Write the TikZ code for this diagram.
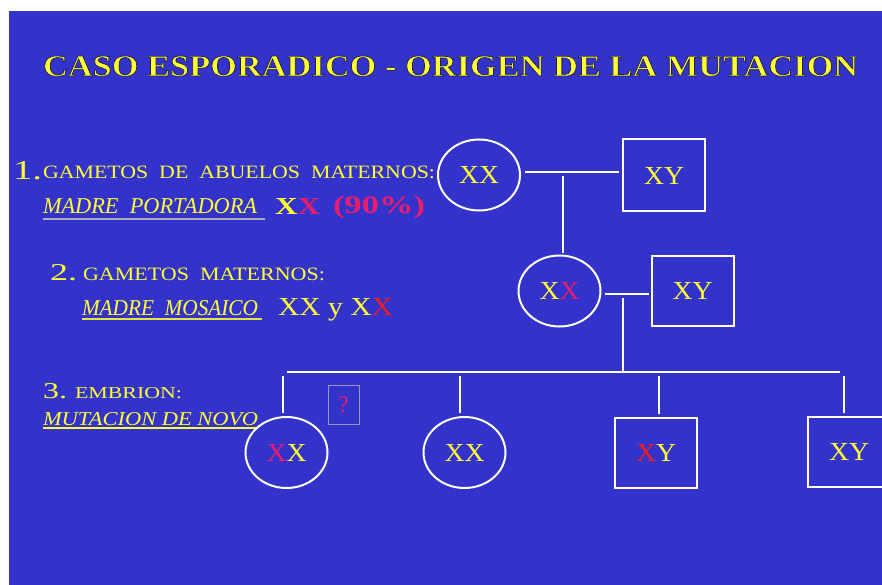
\documentclass[tikz,border=0pt]{standalone}
\usepackage{fontspec}
\usepackage{graphicx}
\setmainfont{Liberation Serif}
\usetikzlibrary{shapes.geometric}
\definecolor{bg}{RGB}{51,51,204}
\definecolor{yel}{RGB}{255,255,51}
\definecolor{mag}{RGB}{230,30,110}
\definecolor{redx}{RGB}{240,30,30}
\definecolor{ulgray}{RGB}{170,170,190}
\definecolor{qgray}{RGB}{150,150,190}
\newcommand\fitbox[3]{\resizebox{#1pt}{#2pt}{#3}}
\newcommand\pedtxt[1]{\fitbox{40}{17}{#1}}
\newcommand\outlined[1]{\special{pdf:code q 2 Tr 0.22 w 0.12 0.12 0.3 RG}#1\special{pdf:code Q}}
\begin{document}
\begin{tikzpicture}[x=1pt,y=-1pt,
  lbl/.style={anchor=base west, inner sep=0pt, outer sep=0pt, text=yel},
  wline/.style={draw=white, line width=2pt},
  fem/.style={ellipse, draw=white, line width=2pt, minimum width=82pt, minimum height=71pt, inner sep=0pt, text=yel},
  mal/.style={rectangle, draw=white, line width=2pt, minimum width=82pt, minimum height=70pt, inner sep=0pt, text=yel},
]
\useasboundingbox (0,0) rectangle (882,585);
\fill[white] (0,0) rectangle (882,585);
\fill[bg] (9,11) rectangle (882,585);

% title (thin dark outline)
\node[lbl] (title) at (43,76) {\fitbox{815}{20}{\bfseries\outlined{CASO ESPORADICO - ORIGEN DE LA MUTACION}}};

% line 1
\node[lbl] (n1) at (13,179) {\fitbox{29}{18}{1.}};
\node[lbl] (l1) at (43,179) {\fitbox{392}{12.5}{GAMETOS\ \ DE\ \ ABUELOS\ \ MATERNOS:}};
\node[lbl] (mp) at (43,214) {\fitbox{214}{15}{\itshape MADRE\ \ PORTADORA}};
\draw[ulgray, line width=1.2pt] ([yshift=-5pt]mp.base west) -- ++(222,0);
\node[lbl] (xx1) at (275,214) {\fitbox{45}{16}{\bfseries X\textcolor{mag}{X}}};
\node[lbl, text=mag] (pct) at (333,214) {\fitbox{92}{17.5}{\bfseries (90\%)}};

% line 2
\node[lbl] (n2) at (50,280) {\fitbox{27}{16}{2.}};
\node[lbl] (l2) at (83,280) {\fitbox{242}{12.5}{GAMETOS\ \ MATERNOS:}};
\node[lbl] (mm) at (82,315) {\fitbox{176}{15}{\itshape MADRE\ \ MOSAICO}};
\draw[yel!80!gray, line width=1.2pt] ([yshift=-4pt]mm.base west) -- ++(180,0);
\node[lbl] (xx2) at (278,315) {\fitbox{115}{17}{XX y X\textcolor{redx}{X}}};

% line 3
\node[lbl] (n3) at (43,398) {\fitbox{24}{15}{3.}};
\node[lbl] (l3) at (75,398) {\fitbox{107}{11}{EMBRION:}};
\node[lbl] (mn) at (43,425) {\fitbox{215}{13}{\itshape MUTACION DE NOVO}};
\draw[yel, line width=1.2pt] ([yshift=-3pt]mn.base west) -- ++(215,0);
\node[draw=qgray, line width=0.8pt, minimum width=31pt, minimum height=39pt, inner sep=0pt, text=mag] (q) at (343.5,404.5) {\fontsize{24}{24}\selectfont ?};

% pedigree
\node[fem] (gm) at (479,175) {\pedtxt{XX}};
\node[mal, minimum height=72pt] (gf) at (664,175.5) {\pedtxt{XY}};
\node[fem] (mo) at (559.5,291) {\pedtxt{X\textcolor{mag}{X}}};
\node[mal] (fa) at (692.5,291) {\pedtxt{XY}};
\node[fem] (c1) at (286.5,452.5) {\pedtxt{\textcolor{mag}{X}X}};
\node[fem] (c2) at (464.5,452.5) {\pedtxt{XX}};
\node[mal] (c3) at (656,452.5) {\pedtxt{\textcolor{redx}{X}Y}};
\node[mal] (c4) at (849,452) {\pedtxt{XY}};

% connectors
\coordinate (m1) at (563,172);
\draw[wline] ([xshift=4pt,yshift=3pt]gm.east) -- ([xshift=-3pt,yshift=3pt]gm.east -| gf.west);
\draw[wline, shorten >=2pt] ([yshift=-4pt]m1) -- (m1 |- mo.north);
\coordinate (m2) at (623,294);
\draw[wline] ([xshift=3pt,yshift=-3pt]mo.east) -- ([xshift=-2pt,yshift=-3pt]mo.east -| fa.west);
\coordinate (sibL) at (287,372);
\coordinate (sibR) at (840,372);
\draw[wline] ([yshift=-4pt]m2) -- (m2 |- sibL);
\draw[wline] (sibL) -- (sibR);
\coordinate (d1) at (283,376);
\coordinate (d2) at (460,376);
\coordinate (d3) at (659,376);
\coordinate (d4) at (844,376);
\draw[wline, shorten >=3pt] (d1) -- (d1 |- c1.north);
\draw[wline, shorten >=3pt] (d2) -- (d2 |- c2.north);
\draw[wline, shorten >=3pt] (d3) -- (d3 |- c3.north);
\draw[wline, shorten >=3pt] (d4) -- (d4 |- c4.north);
\end{tikzpicture}
\end{document}
